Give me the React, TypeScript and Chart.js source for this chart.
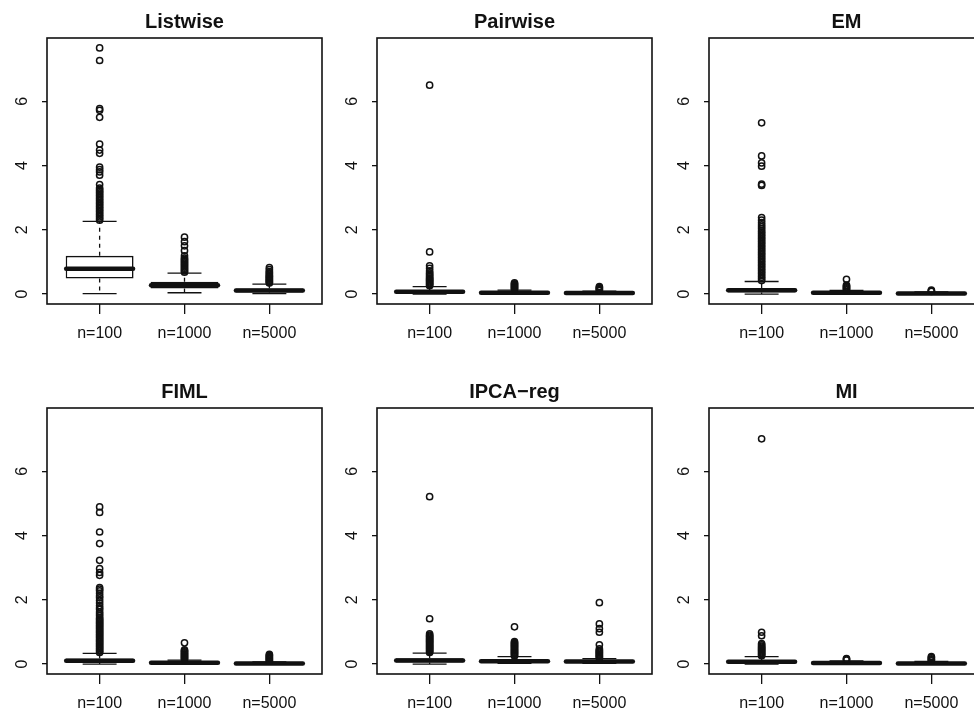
import React, { useEffect, useRef } from "react";
import { Chart, registerables } from "chart.js";

Chart.register(...registerables);

const PANEL_TITLES = ["Listwise", "Pairwise", "EM", "FIML", "IPCA\u2212reg", "MI"];
const GROUP_LABELS = ["n=100", "n=1000", "n=5000"];
const GROUP_POS = [1, 2, 3];
const Y_TICKS = [0, 2, 4, 6];
const Y_MIN = -0.31;
const Y_MAX = 7.97;
const X_MIN = 0.38;
const X_MAX = 3.62;

// five-number summaries: one row per panel, one value per group (n=100, n=1000, n=5000)
const LOWER_WHISKER = [
  [0.01, 0.04, 0.01],
  [0.0, 0.0, 0.0],
  [0.0, 0.0, 0.0],
  [0.0, 0.0, 0.0],
  [0.0, 0.02, 0.02],
  [0.0, 0.0, 0.0],
];
const Q1 = [
  [0.48, 0.17, 0.05],
  [0.03, 0.01, 0.01],
  [0.05, 0.01, 0.0],
  [0.04, 0.01, 0.0],
  [0.05, 0.05, 0.04],
  [0.02, 0.01, 0.0],
];
const MEDIAN = [
  [0.79, 0.27, 0.11],
  [0.07, 0.04, 0.03],
  [0.12, 0.04, 0.02],
  [0.1, 0.04, 0.02],
  [0.11, 0.09, 0.08],
  [0.07, 0.03, 0.02],
];
const Q3 = [
  [1.19, 0.38, 0.17],
  [0.12, 0.07, 0.05],
  [0.19, 0.07, 0.04],
  [0.17, 0.07, 0.04],
  [0.18, 0.14, 0.12],
  [0.12, 0.06, 0.05],
];
const UPPER_WHISKER = [
  [2.26, 0.65, 0.31],
  [0.23, 0.12, 0.09],
  [0.39, 0.11, 0.07],
  [0.33, 0.12, 0.07],
  [0.34, 0.23, 0.17],
  [0.23, 0.1, 0.08],
];

// outliers per panel, per group
const LISTWISE_OUT = [
  [2.3, 2.35, 2.4, 2.45, 2.5, 2.55, 2.6, 2.65, 2.7, 2.75, 2.8, 2.85, 2.9, 2.95, 3.0, 3.05, 3.1, 3.15, 3.2, 3.25, 3.3, 3.41, 3.7, 3.8, 3.87, 3.95, 4.38, 4.48, 4.67, 5.5, 5.72, 5.77, 7.27, 7.66],
  [0.68, 0.72, 0.76, 0.8, 0.84, 0.88, 0.92, 0.96, 1.0, 1.04, 1.08, 1.12, 1.19, 1.35, 1.5, 1.63, 1.77],
  [0.34, 0.37, 0.4, 0.43, 0.46, 0.49, 0.52, 0.55, 0.58, 0.62, 0.66, 0.7, 0.76, 0.82],
];
const PAIRWISE_OUT = [
  [0.26, 0.29, 0.32, 0.35, 0.38, 0.41, 0.44, 0.47, 0.5, 0.54, 0.58, 0.62, 0.66, 0.72, 0.8, 0.88, 1.31, 6.5],
  [0.14, 0.17, 0.2, 0.23, 0.26, 0.29, 0.32, 0.35],
  [0.11, 0.14, 0.17, 0.2, 0.23],
];
const EM_OUT = [
  [0.42, 0.47, 0.52, 0.57, 0.62, 0.67, 0.72, 0.77, 0.82, 0.87, 0.92, 0.97, 1.02, 1.07, 1.12, 1.17, 1.22, 1.27, 1.32, 1.37, 1.42, 1.47, 1.52, 1.57, 1.62, 1.67, 1.72, 1.77, 1.82, 1.87, 1.92, 1.97, 2.03, 2.09, 2.15, 2.22, 2.3, 2.38, 3.38, 3.42, 3.98, 4.08, 4.3, 5.33],
  [0.13, 0.16, 0.19, 0.22, 0.25, 0.28, 0.46],
  [0.08, 0.1, 0.12],
];
const FIML_OUT = [
  [0.36, 0.4, 0.44, 0.48, 0.52, 0.56, 0.6, 0.64, 0.68, 0.72, 0.76, 0.8, 0.84, 0.88, 0.92, 0.96, 1.0, 1.04, 1.08, 1.12, 1.16, 1.2, 1.24, 1.28, 1.32, 1.36, 1.4, 1.44, 1.5, 1.56, 1.62, 1.7, 1.75, 1.82, 1.9, 1.98, 2.06, 2.12, 2.2, 2.28, 2.33, 2.38, 2.76, 2.85, 2.97, 3.23, 3.75, 4.11, 4.72, 4.89],
  [0.14, 0.17, 0.2, 0.23, 0.26, 0.29, 0.32, 0.35, 0.38, 0.41, 0.44, 0.66],
  [0.09, 0.12, 0.15, 0.18, 0.21, 0.24, 0.27, 0.3],
];
const IPCA_OUT = [
  [0.36, 0.39, 0.42, 0.45, 0.48, 0.51, 0.54, 0.57, 0.6, 0.63, 0.66, 0.69, 0.72, 0.75, 0.78, 0.81, 0.84, 0.87, 0.9, 0.94, 1.41, 5.21],
  [0.25, 0.28, 0.31, 0.34, 0.37, 0.4, 0.43, 0.46, 0.49, 0.52, 0.55, 0.58, 0.61, 0.64, 0.67, 0.7, 1.16],
  [0.19, 0.22, 0.25, 0.28, 0.31, 0.34, 0.37, 0.4, 0.43, 0.47, 0.6, 0.99, 1.1, 1.25, 1.91],
];
const MI_OUT = [
  [0.26, 0.29, 0.32, 0.35, 0.38, 0.41, 0.44, 0.47, 0.5, 0.53, 0.56, 0.6, 0.64, 0.88, 0.99, 7.01],
  [0.12, 0.15, 0.17],
  [0.1, 0.13, 0.16, 0.2, 0.23],
];
const OUTLIERS = [LISTWISE_OUT, PAIRWISE_OUT, EM_OUT, FIML_OUT, IPCA_OUT, MI_OUT];

const FONT_FAMILY = "'Liberation Sans', Arial, Helvetica, sans-serif";
const CANVAS_W = 331;
const CANVAS_H = 360;
const COL_LEFT = [0, 330, 662];
const ROW_TOP = [0, 370];
const INK = "#111111";

const rBoxPlugin = {
  id: "rbox",
  afterDatasetDraw(chart: any, args: any, opts: any) {
    if (args.meta.type !== "bar") return;
    const p = opts.panel as number;
    const ctx = chart.ctx as CanvasRenderingContext2D;
    const ys = chart.scales.y;
    ctx.save();
    ctx.strokeStyle = INK;
    args.meta.data.forEach((bar: any, g: number) => {
      const x = bar.x;
      const half = bar.width / 2;
      const capHalf = bar.width / 4;
      const yLo = ys.getPixelForValue(LOWER_WHISKER[p][g]);
      const yQ1 = ys.getPixelForValue(Q1[p][g]);
      const yMed = ys.getPixelForValue(MEDIAN[p][g]);
      const yQ3 = ys.getPixelForValue(Q3[p][g]);
      const yHi = ys.getPixelForValue(UPPER_WHISKER[p][g]);
      ctx.lineWidth = 1.3;
      ctx.lineCap = "butt";
      ctx.setLineDash([4, 4]);
      ctx.beginPath();
      ctx.moveTo(x, yQ3);
      ctx.lineTo(x, yHi);
      ctx.moveTo(x, yQ1);
      ctx.lineTo(x, yLo);
      ctx.stroke();
      ctx.setLineDash([]);
      ctx.beginPath();
      ctx.moveTo(x - capHalf, yHi);
      ctx.lineTo(x + capHalf, yHi);
      ctx.moveTo(x - capHalf, yLo);
      ctx.lineTo(x + capHalf, yLo);
      ctx.stroke();
      ctx.lineWidth = 4.5;
      ctx.lineCap = "round";
      ctx.beginPath();
      ctx.moveTo(x - half + 0.5, yMed);
      ctx.lineTo(x + half - 0.5, yMed);
      ctx.stroke();
    });
    ctx.restore();
  },
};

const framePlugin = {
  id: "rframe",
  afterDraw(chart: any) {
    const { ctx, chartArea: a } = chart;
    ctx.save();
    ctx.strokeStyle = INK;
    ctx.lineWidth = 1.6;
    ctx.strokeRect(a.left, a.top, a.right - a.left, a.bottom - a.top);
    ctx.restore();
  },
};

function buildConfig(p: number): any {
  const boxData = GROUP_POS.map((x, g) => ({ x, y: [Q1[p][g], Q3[p][g]] }));
  const outData = OUTLIERS[p].flatMap((vals, g) => vals.map((v) => ({ x: GROUP_POS[g], y: v })));
  const tickFont = { family: FONT_FAMILY, size: 16 };
  return {
    type: "scatter",
    data: {
      datasets: [
        {
          type: "bar",
          data: boxData,
          backgroundColor: "#ffffff",
          borderColor: INK,
          borderWidth: 1.6,
          borderSkipped: false,
          barPercentage: 0.8,
          categoryPercentage: 1,
          order: 2,
        },
        {
          type: "scatter",
          data: outData,
          pointStyle: "circle",
          pointRadius: 3.1,
          pointBorderWidth: 1.5,
          pointBorderColor: INK,
          pointBackgroundColor: "rgba(0,0,0,0)",
          order: 1,
        },
      ],
    },
    options: {
      animation: false,
      responsive: false,
      devicePixelRatio: 1,
      layout: { padding: { left: 0, top: 0, right: 9, bottom: 0 }, autoPadding: false },
      plugins: {
        legend: { display: false },
        tooltip: { enabled: false },
        title: {
          display: true,
          text: PANEL_TITLES[p],
          fullSize: false,
          color: INK,
          font: { family: FONT_FAMILY, size: 20, weight: "bold", lineHeight: 1.2 },
          padding: { top: 10, bottom: 4 },
        },
        rbox: { panel: p },
      },
      scales: {
        x: {
          type: "linear",
          min: X_MIN,
          max: X_MAX,
          offset: false,
          afterBuildTicks: (s: any) => {
            s.ticks = GROUP_POS.map((v) => ({ value: v }));
          },
          afterFit: (s: any) => {
            s.height = 56;
          },
          grid: { display: true, drawOnChartArea: false, drawTicks: true, tickLength: 10, color: INK, lineWidth: 1.3, offset: false },
          border: { display: false },
          ticks: {
            autoSkip: false,
            minRotation: 0,
            maxRotation: 0,
            padding: 10,
            color: INK,
            font: tickFont,
            callback: (v: number) => {
              const i = GROUP_POS.indexOf(v);
              return i >= 0 ? GROUP_LABELS[i] : "";
            },
          },
        },
        y: {
          type: "linear",
          min: Y_MIN,
          max: Y_MAX,
          afterBuildTicks: (s: any) => {
            s.ticks = Y_TICKS.map((v) => ({ value: v }));
          },
          afterFit: (s: any) => {
            s.width = 47;
          },
          grid: { display: true, drawOnChartArea: false, drawTicks: true, tickLength: 5, color: INK, lineWidth: 1.3 },
          border: { display: false },
          ticks: {
            autoSkip: false,
            minRotation: 90,
            maxRotation: 90,
            crossAlign: "center",
            padding: 15,
            color: INK,
            font: tickFont,
            callback: (v: number) => String(v),
          },
        },
      },
    },
    plugins: [rBoxPlugin, framePlugin],
  };
}

function Panel({ index }: { index: number }) {
  const ref = useRef<HTMLCanvasElement>(null);
  useEffect(() => {
    const canvas = ref.current;
    if (!canvas) return;
    const chart = new Chart(canvas, buildConfig(index));
    return () => chart.destroy();
  }, [index]);
  const col = index % 3;
  const row = Math.floor(index / 3);
  return (
    <canvas
      ref={ref}
      width={CANVAS_W}
      height={CANVAS_H}
      style={{ position: "absolute", left: COL_LEFT[col], top: ROW_TOP[row], width: CANVAS_W, height: CANVAS_H, display: "block" }}
    />
  );
}

export default function App() {
  return (
    <div style={{ position: "fixed", left: 0, top: 0, width: 974, height: 710, overflow: "hidden", background: "#fff" }}>
      {PANEL_TITLES.map((_, i) => (
        <Panel key={i} index={i} />
      ))}
    </div>
  );
}
